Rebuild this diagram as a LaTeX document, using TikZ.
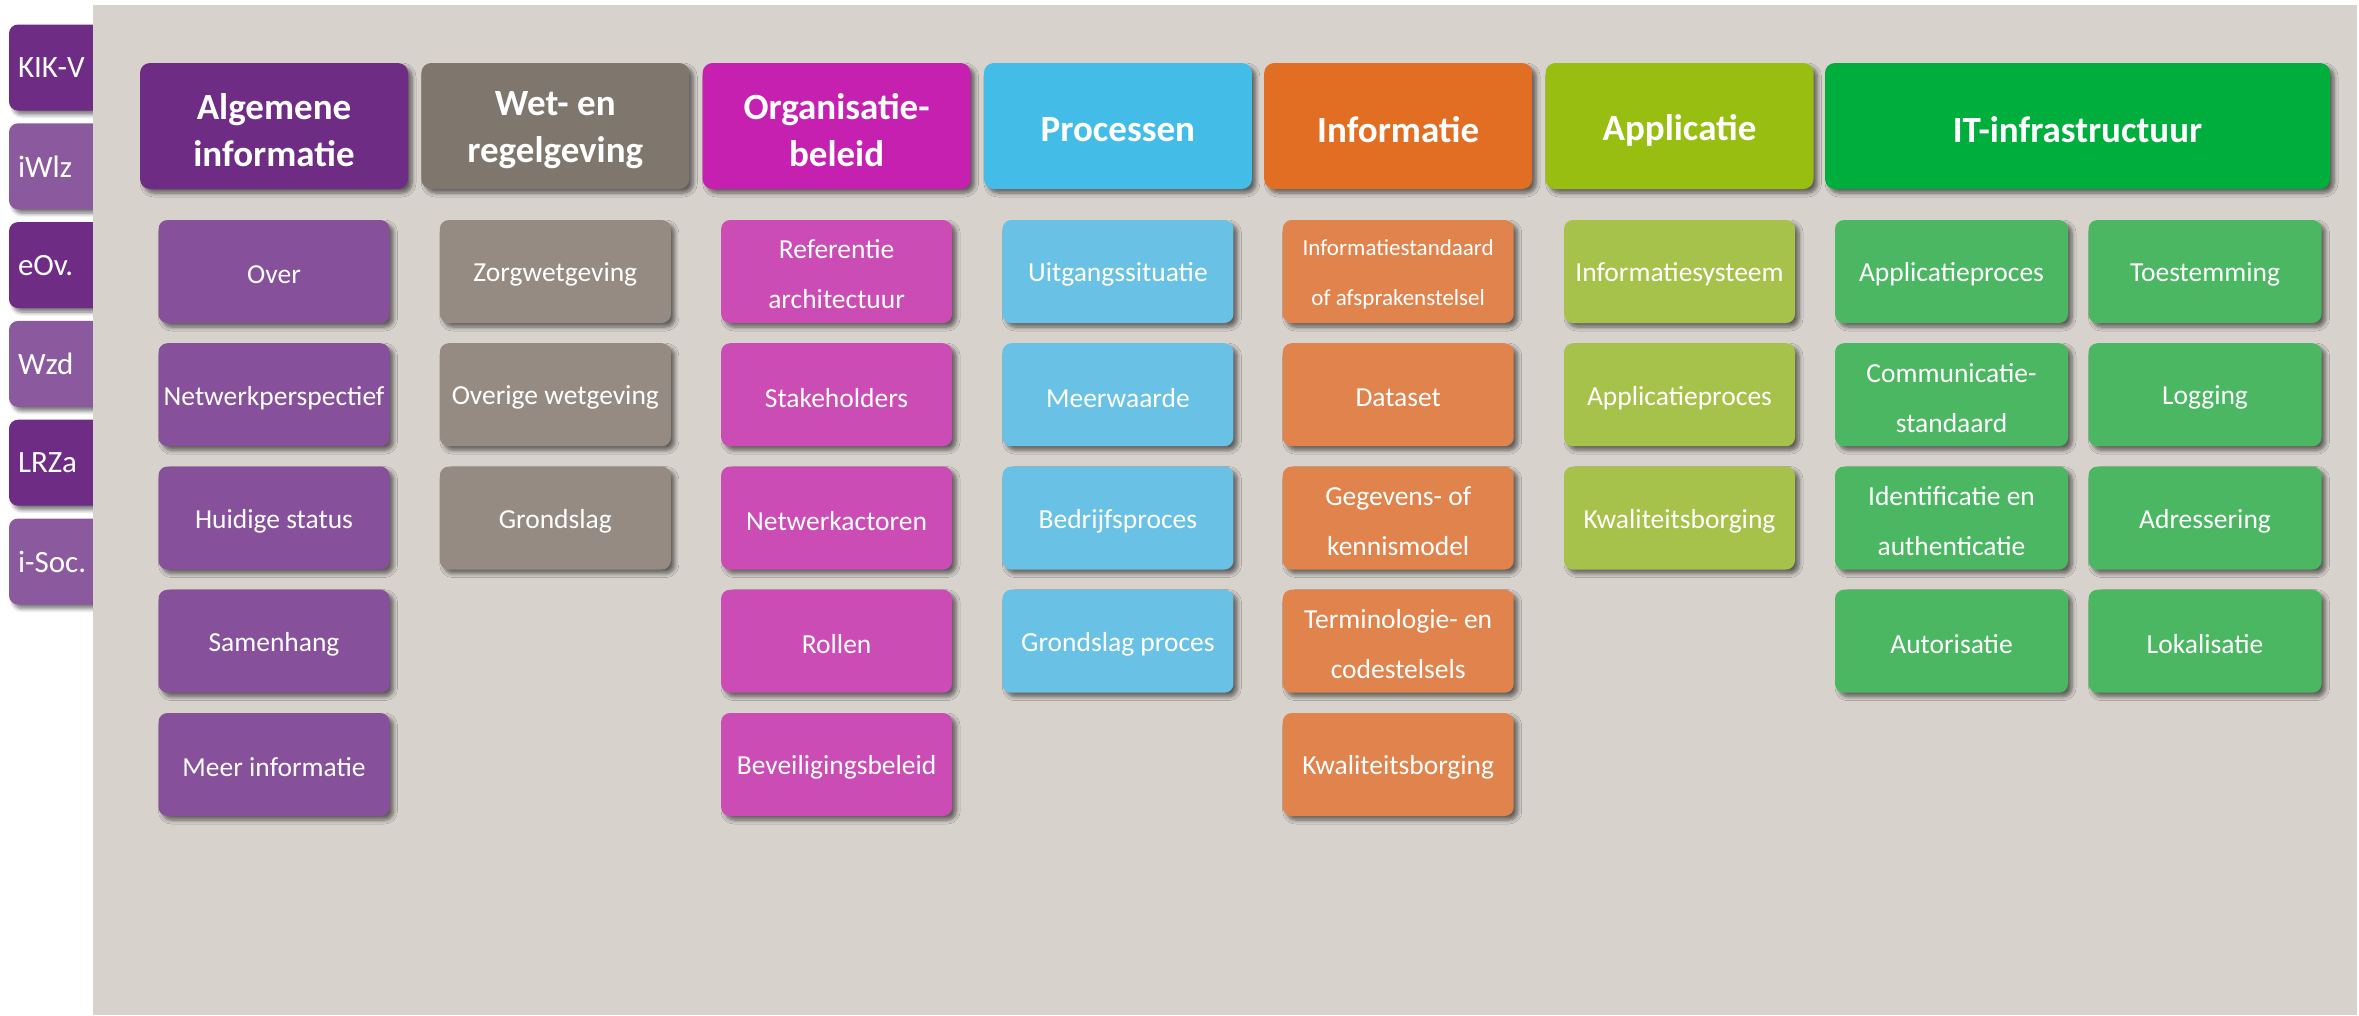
\documentclass[tikz,border=0pt]{standalone}
\usepackage{fontspec}
\setmainfont{Carlito}
\usetikzlibrary{shadows.blur}
\definecolor{panelbg}{RGB}{215,210,204}
\definecolor{tabdark}{RGB}{110,44,133}
\definecolor{tablight}{RGB}{139,90,158}
\definecolor{hA}{RGB}{110,44,133}\definecolor{sA}{RGB}{134,81,154}
\definecolor{hB}{RGB}{127,118,109}\definecolor{sB}{RGB}{150,139,130}
\definecolor{hC}{RGB}{197,32,176}\definecolor{sC}{RGB}{204,76,182}
\definecolor{hD}{RGB}{67,189,232}\definecolor{sD}{RGB}{105,194,229}
\definecolor{hE}{RGB}{225,110,34}\definecolor{sE}{RGB}{225,131,77}
\definecolor{hF}{RGB}{152,190,18}\definecolor{sF}{RGB}{166,194,75}
\definecolor{hG}{RGB}{0,174,62}\definecolor{sG}{RGB}{76,183,98}
\begin{document}
\begin{tikzpicture}[x=1pt,y=-1pt,
  shad/.style={blur shadow={shadow xshift=4pt, shadow yshift=-4pt, shadow blur radius=4pt, shadow blur steps=6, shadow opacity=55}},
  hdr/.style={shad, fill=#1, rounded corners=10pt, minimum width=268pt, minimum height=126pt, inner sep=0pt},
  hlab/.style={text=white, align=center, inner sep=0pt, yshift=-4pt, font=\fontsize{37}{47}\selectfont\bfseries},
  ht/.style={label={[hlab]center:#1}},
  subbox/.style={shad, fill=#1, rounded corners=9pt, minimum width=231pt, minimum height=103pt, inner sep=0pt},
  slab/.style={text=white, align=center, inner sep=0pt, yshift=-3pt, font=\fontsize{27.5}{50}\selectfont},
  smlab/.style={slab, font=\fontsize{23}{50}\selectfont},
  st/.style={label={[slab]center:#1}},
  sst/.style={label={[smlab]center:#1}},
  tabbox/.style={shad, fill=#1, rounded corners=9pt, minimum height=86pt, text width=92pt, inner xsep=9pt, inner ysep=0pt, align=left, text=white, font=\fontsize{31}{36}\selectfont}
]
\useasboundingbox (0,0) rectangle (2359,1015);
% side tabs
\node[tabbox=tabdark]  (t1) at (64,67.5)  {KIK-V};
\node[tabbox=tablight] (t2) at (64,166.3) {iWlz};
\node[tabbox=tabdark]  (t3) at (64,265.1) {eOv.};
\node[tabbox=tablight] (t4) at (64,363.9) {Wzd};
\node[tabbox=tabdark]  (t5) at (64,462.7) {LRZa};
\node[tabbox=tablight] (t6) at (64,561.5) {i-Soc.};
% panel
\fill[panelbg] (93,5) rectangle (2357,1015);
% headers
\node[hdr=hA, ht={Algemene\\informatie}] (h1) at (274,126) {};
\node[hdr=hB, ht={Wet- en\\regelgeving}] (h2) at (555.3,126) {};
\node[hdr=hC, ht={Organisatie-\\beleid}] (h3) at (836.6,126) {};
\node[hdr=hD, ht={Processen}] (h4) at (1117.9,126) {};
\node[hdr=hE, ht={Informatie}] (h5) at (1398.2,126) {};
\node[hdr=hF, ht={Applicatie}] (h6) at (1679.5,126) {};
\node[hdr=hG, minimum width=505pt, ht={IT-infrastructuur}] (h7) at (2077.5,126) {};
% column 1
\node[subbox=sA, st={Over}] (a1) at (274,271.5) {};
\node[subbox=sA, st={Netwerkperspectief}] (a2) at (274,394.7) {};
\node[subbox=sA, st={Huidige status}] (a3) at (274,518) {};
\node[subbox=sA, st={Samenhang}] (a4) at (274,641.2) {};
\node[subbox=sA, st={Meer informatie}] (a5) at (274,764.5) {};
% column 2
\node[subbox=sB, st={Zorgwetgeving}] (b1) at (555.3,271.5) {};
\node[subbox=sB, st={Overige wetgeving}] (b2) at (555.3,394.7) {};
\node[subbox=sB, st={Grondslag}] (b3) at (555.3,518) {};
% column 3
\node[subbox=sC, st={Referentie\\architectuur}] (c1) at (836.6,271.5) {};
\node[subbox=sC, st={Stakeholders}] (c2) at (836.6,394.7) {};
\node[subbox=sC, st={Netwerkactoren}] (c3) at (836.6,518) {};
\node[subbox=sC, st={Rollen}] (c4) at (836.6,641.2) {};
\node[subbox=sC, st={Beveiligingsbeleid}] (c5) at (836.6,764.5) {};
% column 4
\node[subbox=sD, st={Uitgangssituatie}] (d1) at (1117.9,271.5) {};
\node[subbox=sD, st={Meerwaarde}] (d2) at (1117.9,394.7) {};
\node[subbox=sD, st={Bedrijfsproces}] (d3) at (1117.9,518) {};
\node[subbox=sD, st={Grondslag proces}] (d4) at (1117.9,641.2) {};
% column 5
\node[subbox=sE, sst={Informatiestandaard\\of afsprakenstelsel}] (e1) at (1398.2,271.5) {};
\node[subbox=sE, st={Dataset}] (e2) at (1398.2,394.7) {};
\node[subbox=sE, st={Gegevens- of\\kennismodel}] (e3) at (1398.2,518) {};
\node[subbox=sE, st={Terminologie- en\\codestelsels}] (e4) at (1398.2,641.2) {};
\node[subbox=sE, st={Kwaliteitsborging}] (e5) at (1398.2,764.5) {};
% column 6
\node[subbox=sF, st={Informatiesysteem}] (f1) at (1679.5,271.5) {};
\node[subbox=sF, st={Applicatieproces}] (f2) at (1679.5,394.7) {};
\node[subbox=sF, st={Kwaliteitsborging}] (f3) at (1679.5,518) {};
% column 7
\node[subbox=sG, minimum width=233pt, st={Applicatieproces}] (g1) at (1951.5,271.5) {};
\node[subbox=sG, minimum width=233pt, st={Communicatie-\\standaard}] (g2) at (1951.5,394.7) {};
\node[subbox=sG, minimum width=233pt, st={Identificatie en\\authenticatie}] (g3) at (1951.5,518) {};
\node[subbox=sG, minimum width=233pt, st={Autorisatie}] (g4) at (1951.5,641.2) {};
\node[subbox=sG, minimum width=233pt, st={Toestemming}] (g5) at (2205,271.5) {};
\node[subbox=sG, minimum width=233pt, st={Logging}] (g6) at (2205,394.7) {};
\node[subbox=sG, minimum width=233pt, st={Adressering}] (g7) at (2205,518) {};
\node[subbox=sG, minimum width=233pt, st={Lokalisatie}] (g8) at (2205,641.2) {};
\end{tikzpicture}
\end{document}
